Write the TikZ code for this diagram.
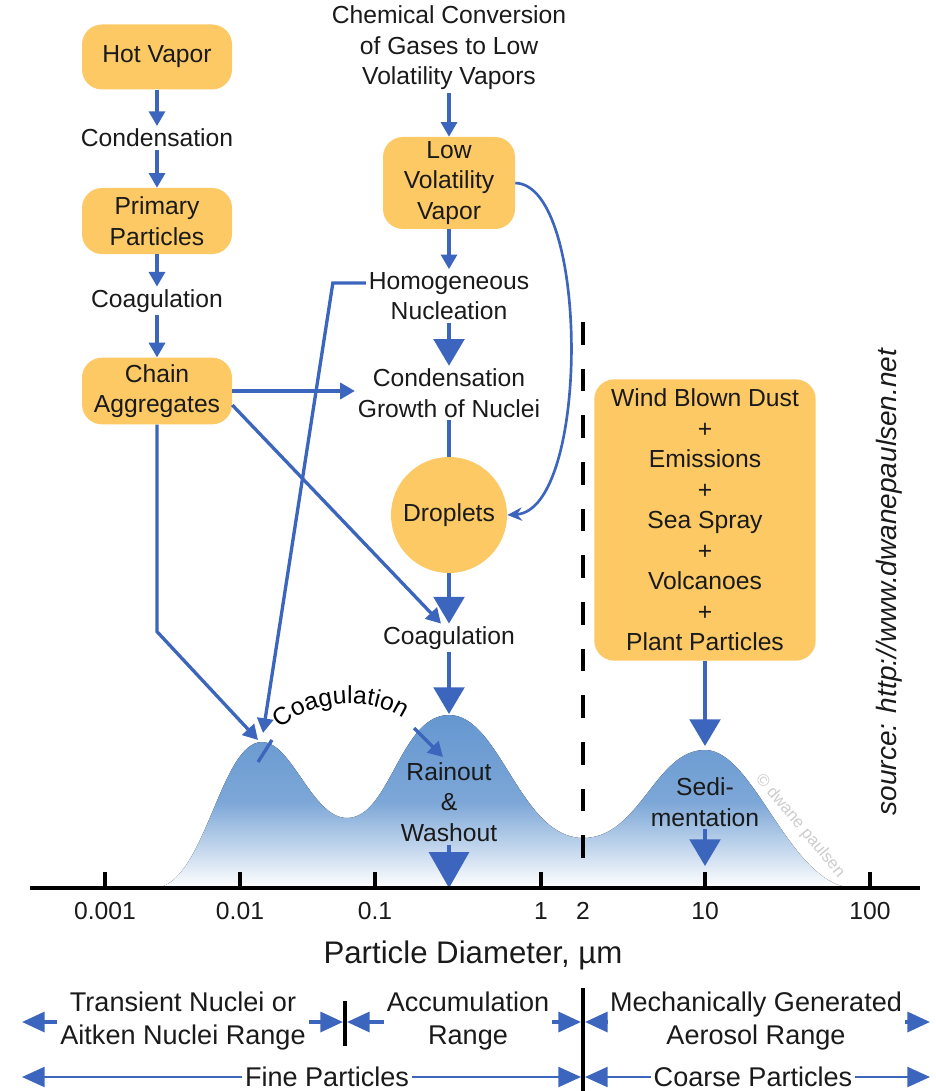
\documentclass[tikz,border=0pt]{standalone}
\usepackage{fontspec}
\setmainfont{Liberation Sans}
\usetikzlibrary{positioning, arrows.meta, decorations.text}
\definecolor{aeroBlue}{HTML}{3C66BE}
\definecolor{aeroYellow}{HTML}{FCC964}
\definecolor{aeroCurve}{HTML}{6597D0}
\definecolor{aeroText}{HTML}{1A1A1A}
\newcommand{\aeroFont}{\fontsize{18.5}{22.9}\selectfont}
\newcommand{\rangeFont}{\fontsize{20.3}{24.8}\selectfont}

\begin{document}
\begin{tikzpicture}[
    x=0.75pt, y=-0.75pt,
    every node/.style={font=\aeroFont, text=aeroText, align=center, inner sep=2pt},
    procbox/.style={fill=aeroYellow, rounded corners=15pt, minimum width=112.5pt},
    plainline/.style={draw=aeroBlue, line width=2.5pt},
    flow/.style={plainline, -{Triangle[length=11pt, width=12pt]}},
    bigflow/.style={plainline, -{Triangle[length=20pt, width=23pt]}},
    hugeflow/.style={plainline, -{Triangle[length=27pt, width=30pt]}},
    loopflow/.style={draw=aeroBlue, line width=2pt, -{Stealth[length=11pt, width=10pt]}},
    axisline/.style={line width=2.4pt, draw=black},
    rangetext/.style={font=\rangeFont},
    rangeflow/.style={draw=aeroBlue, line width=2.6pt, -{Triangle[length=17pt, width=15pt]}},
    rangeflowthin/.style={draw=aeroBlue, line width=1.7pt, -{Triangle[length=17pt, width=15pt]}}
]
\useasboundingbox (0,0) rectangle (935,1091);

% ============================
% Size distribution (three modes)
% ============================
\fill[top color=aeroCurve, bottom color=white, middle color=aeroCurve!85!white]
    (155,888) .. controls (205,885) and (220,742) .. (262,742)
    .. controls (292,742) and (312,818) .. (347,818)
    .. controls (390,818) and (400,715) .. (449,715)
    .. controls (500,715) and (520,838) .. (583,838)
    .. controls (640,838) and (655,750) .. (705,750)
    .. controls (755,750) and (790,888) .. (855,888) -- cycle;
\coordinate (pk1a) at (258,740);
\coordinate (pk1b) at (263,733);
\coordinate (pk2) at (449,714);
\coordinate (pk3) at (705,746);

% watermark
\node[rotate=-50, font=\fontsize{12.5}{14}\selectfont, text=gray!40] (mark) at (800,826) {\textcopyright\ dwane paulsen};

% ============================
% Left column: hot vapor path
% ============================
\node[procbox, minimum height=48.75pt] (hot) at (157,57) {Hot Vapor};
\node (cond1) at (157,138) {Condensation};
\node[procbox, minimum height=49.5pt] (prim) at (157,221) {Primary\\Particles};
\node (coag1) at (157,301) {Coagulation};
\node[procbox, minimum height=50pt] (chain) at (157,391) {Chain\\Aggregates};

\draw[flow] (hot) -- (cond1);
\draw[flow] (cond1) -- (prim);
\draw[flow] (prim) -- (coag1);
\draw[flow] (coag1) -- (chain);

% ============================
% Middle column: gas conversion path
% ============================
\node (chem) at (449,48) {Chemical Conversion\\of Gases to Low\\Volatility Vapors};
\node[procbox, minimum width=99pt, minimum height=69pt] (lvv) at (449,183) {Low\\Volatility\\Vapor};
\node (homog) at (449,296) {Homogeneous\\Nucleation};
\node (growth) at (449,393) {Condensation\\Growth of Nuclei};
\node[circle, fill=aeroYellow, minimum size=87pt, inner sep=0pt] (drop) at (449,515) {Droplets};
\node (coag2) at (449,638) {Coagulation};

\draw[flow] (chem) -- (lvv);
\draw[flow] (lvv) -- (homog);
\draw[bigflow] (homog) -- (growth);
\draw[plainline] (growth) -- (drop);
\draw[bigflow] (drop) -- (coag2);
\draw[bigflow] (coag2) -- (pk2);
\draw[loopflow] (lvv.east) .. controls (590,185) and (590,510) .. (drop.east);

% cross links
\draw[flow] (chain.east) -- (chain.east -| growth.west);
\draw[flow] ([yshift=-10.5pt]chain.east) -- ([xshift=-6pt]coag2.north);
\draw[flow] (chain.south) -- ++(0,207) -- (pk1a);
\draw[flow] ([yshift=9.75pt]homog.west) -- ++(-33,0) -- (pk1b);

% coagulation between modes
\coordinate (arcA) at (258,762);
\coordinate (arcB) at (272,740);
\coordinate (arcC) at (414,728);
\coordinate (arcD) at (443,757);
\draw[plainline] (arcA) -- (arcB);
\path[decorate, decoration={text along path, text align=center, text={|\aeroFont|Coagulation}}]
    (arcB) .. controls (298,696) and (382,692) .. (arcC);
\draw[flow] (arcC) -- (arcD);

% ============================
% Right: coarse particles
% ============================
\node[procbox, minimum width=166pt, minimum height=211pt] (wind) at (705,520)
    {Wind Blown Dust\\+\\Emissions\\+\\Sea Spray\\+\\Volcanoes\\+\\Plant Particles};
\draw[bigflow] (wind) -- (pk3);

% removal
\coordinate (ax2) at (449,888);
\coordinate (ax3) at (705,866);
\node (rain) at (449,802) {Rainout\\\&\\Washout};
\node (sedi) at (705,802) {Sedi-\\mentation};
\draw[hugeflow] (rain) -- (ax2);
\draw[bigflow] (sedi) -- (ax3);

% fine / coarse divider
\draw[line width=3pt, dash pattern=on 17pt off 18pt] (583,322) -- (583,862);

% ============================
% Axis
% ============================
\draw[axisline] (30,888) -- (920,888);
\foreach \x/\lbl [count=\i] in {105/0.001, 240/0.01, 375/0.1, 541/1, 705/10, 870/100} {
    \draw[axisline] (\x,872) -- (\x,888);
    \node (tick\i) at (\x,911) {\lbl};
}
\node (tickTwo) at (583,911) {2};
\node[font=\fontsize{23.4}{28}\selectfont] (axlabel) at (473,955) {Particle Diameter, µm};

\node[rotate=90, font=\fontsize{21}{25}\selectfont\itshape] (src) at (889,582) {source: http://www.dwanepaulsen.net};

% ============================
% Size ranges
% ============================
\coordinate (leftA) at (22,1022);
\coordinate (barOneL) at (343,1022);
\coordinate (barOneR) at (347,1022);
\coordinate (barTwoL) at (581,1022);
\coordinate (barTwoR) at (585,1022);
\coordinate (rightA) at (930,1022);
\coordinate (leftB) at (22,1077);
\coordinate (barTwoLB) at (581,1077);
\coordinate (barTwoRB) at (585,1077);
\coordinate (rightB) at (930,1077);

\draw[line width=2.4pt] (345,1001) -- (345,1046);
\draw[line width=2.4pt] (583,988) -- (583,1091);

\node[rangetext] (trans) at (183,1021) {Transient Nuclei or\\Aitken Nuclei Range};
\node[rangetext] (accum) at (468,1021) {Accumulation\\Range};
\node[rangetext] (mech) at (756,1021) {Mechanically Generated\\Aerosol Range};
\node[rangetext] (fine) at (327,1077) {Fine Particles};
\node[rangetext] (coarse) at (753,1077) {Coarse Particles};

\draw[rangeflow] (trans.west |- leftA) -- (leftA);
\draw[rangeflow] (trans.east |- barOneL) -- (barOneL);
\draw[rangeflow] (accum.west |- barOneR) -- (barOneR);
\draw[rangeflow] (accum.east |- barTwoL) -- (barTwoL);
\draw[rangeflow] (mech.west |- barTwoR) -- (barTwoR);
\draw[rangeflow] (mech.east |- rightA) -- (rightA);
\draw[rangeflowthin] (fine.west) -- (leftB);
\draw[rangeflowthin] (fine.east) -- (barTwoLB);
\draw[rangeflowthin] (coarse.west) -- (barTwoRB);
\draw[rangeflowthin] (coarse.east) -- (rightB);

\end{tikzpicture}
\end{document}
